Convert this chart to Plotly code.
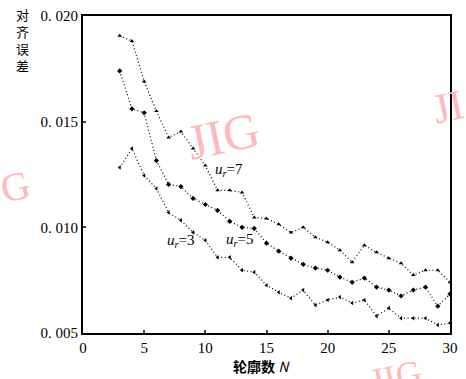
import plotly.graph_objects as go

N = list(range(3, 31))
err_r7 = [0.01906, 0.01882, 0.0169, 0.0155, 0.01425, 0.01453, 0.01373, 0.01292, 0.01175, 0.01175,
          0.01165, 0.01047, 0.01042, 0.01014, 0.00976, 0.0100, 0.00953, 0.00929, 0.00892, 0.00835,
          0.00915, 0.00882, 0.00854, 0.0083, 0.00774, 0.00797, 0.00797, 0.0074]
err_r5 = [0.0174, 0.01561, 0.01542, 0.01316, 0.01203, 0.01193, 0.01137, 0.01108, 0.0108, 0.01028,
          0.0100, 0.00995, 0.00925, 0.00887, 0.00854, 0.00825, 0.00807, 0.00797, 0.00764, 0.0074,
          0.0076, 0.00717, 0.00703, 0.00675, 0.00703, 0.00717, 0.00627, 0.00684]
err_r3 = [0.01283, 0.01373, 0.01245, 0.01184, 0.0107, 0.01033, 0.00976, 0.00939, 0.00858, 0.00858,
          0.00797, 0.00788, 0.00726, 0.00693, 0.00665, 0.00703, 0.00632, 0.00656, 0.0067, 0.00642,
          0.00656, 0.0058, 0.00618, 0.0057, 0.0057, 0.0057, 0.00538, 0.00547]

x_ticks = [0, 5, 10, 15, 20, 25, 30]
y_ticks = [0.005, 0.010, 0.015, 0.020]
y_ticktext = ["0. 005", "0. 010", "0. 015", "0. 020"]

series = [
    (err_r7, "triangle-up"),
    (err_r5, "diamond"),
    (err_r3, "triangle-left"),
]

L, R, T, B, W, H = 83, 8, 15, 46, 466, 379
PW, PH = W - L - R, H - T - B


def px(x, y):
    return (x - L) / PW, 1 - (y - T) / PH


fig = go.Figure()
for ys, sym in series:
    fig.add_trace(go.Scatter(
        x=N, y=ys, mode="lines+markers",
        line=dict(color="black", width=1.2, dash="1px,2.5px"),
        marker=dict(symbol=sym, size=4, color="black"),
        showlegend=False,
    ))

serif = "Liberation Serif"
fig.update_layout(
    width=W, height=H,
    margin=dict(l=L, r=R, t=T, b=B),
    paper_bgcolor="white", plot_bgcolor="white",
    font=dict(family=serif, size=15, color="black"),
    xaxis=dict(range=[0, 30], tickvals=x_ticks, ticks="inside", ticklen=3,
               tickwidth=1.5, showline=True, linewidth=1.5, linecolor="black",
               mirror=True, showgrid=False, zeroline=False,
               tickfont=dict(family=serif, size=15)),
    yaxis=dict(range=[0.005, 0.020], tickvals=y_ticks, ticktext=y_ticktext,
               ticks="inside", ticklen=3, tickwidth=1.5, showline=True,
               linewidth=1.8, linecolor="black", mirror=True, showgrid=False,
               zeroline=False, tickfont=dict(family=serif, size=15)),
)

# watermarks (drawn first, beneath text)
wm = [(226, 135, 50, "JIG"), (-8, 186, 40, "G"), (478, 78, 42, "JI"), (435, 405, 36, "JIG")]
for x, y, s, t in wm:
    ax, ay = px(x, y)
    fig.add_annotation(x=ax, y=ay, xref="paper", yref="paper",
                       text=t, showarrow=False, textangle=-12,
                       font=dict(family=serif, size=s, color="rgb(255,185,185)"))

labels = [
    (232, 169, "<i>u</i><sub><i>r</i></sub>=7"),
    (243, 251, "<i>u</i><sub><i>r</i></sub>=5"),
    (167, 252, "<i>u</i><sub><i>r</i></sub>=3"),
]
for x, y, t in labels:
    ax, ay = px(x, y)
    fig.add_annotation(x=ax, y=ay, xref="paper", yref="paper", text=t,
                       showarrow=False, font=dict(family=serif, size=15, color="black"))

ax, ay = px(12, 2)
fig.add_annotation(x=ax, y=ay, xref="paper", yref="paper", yanchor="top",
                   text="对<br>齐<br>误<br>差", showarrow=False,
                   font=dict(family="Noto Sans CJK SC", size=13, color="black"))
ax, ay = px(265, 366)
fig.add_annotation(x=ax, y=ay, xref="paper", yref="paper", yanchor="middle",
                   text="<b>轮廓数</b> <i>N</i>", showarrow=False,
                   font=dict(family="Noto Sans CJK SC", size=14, color="black"))

fig.write_html("out.html")
